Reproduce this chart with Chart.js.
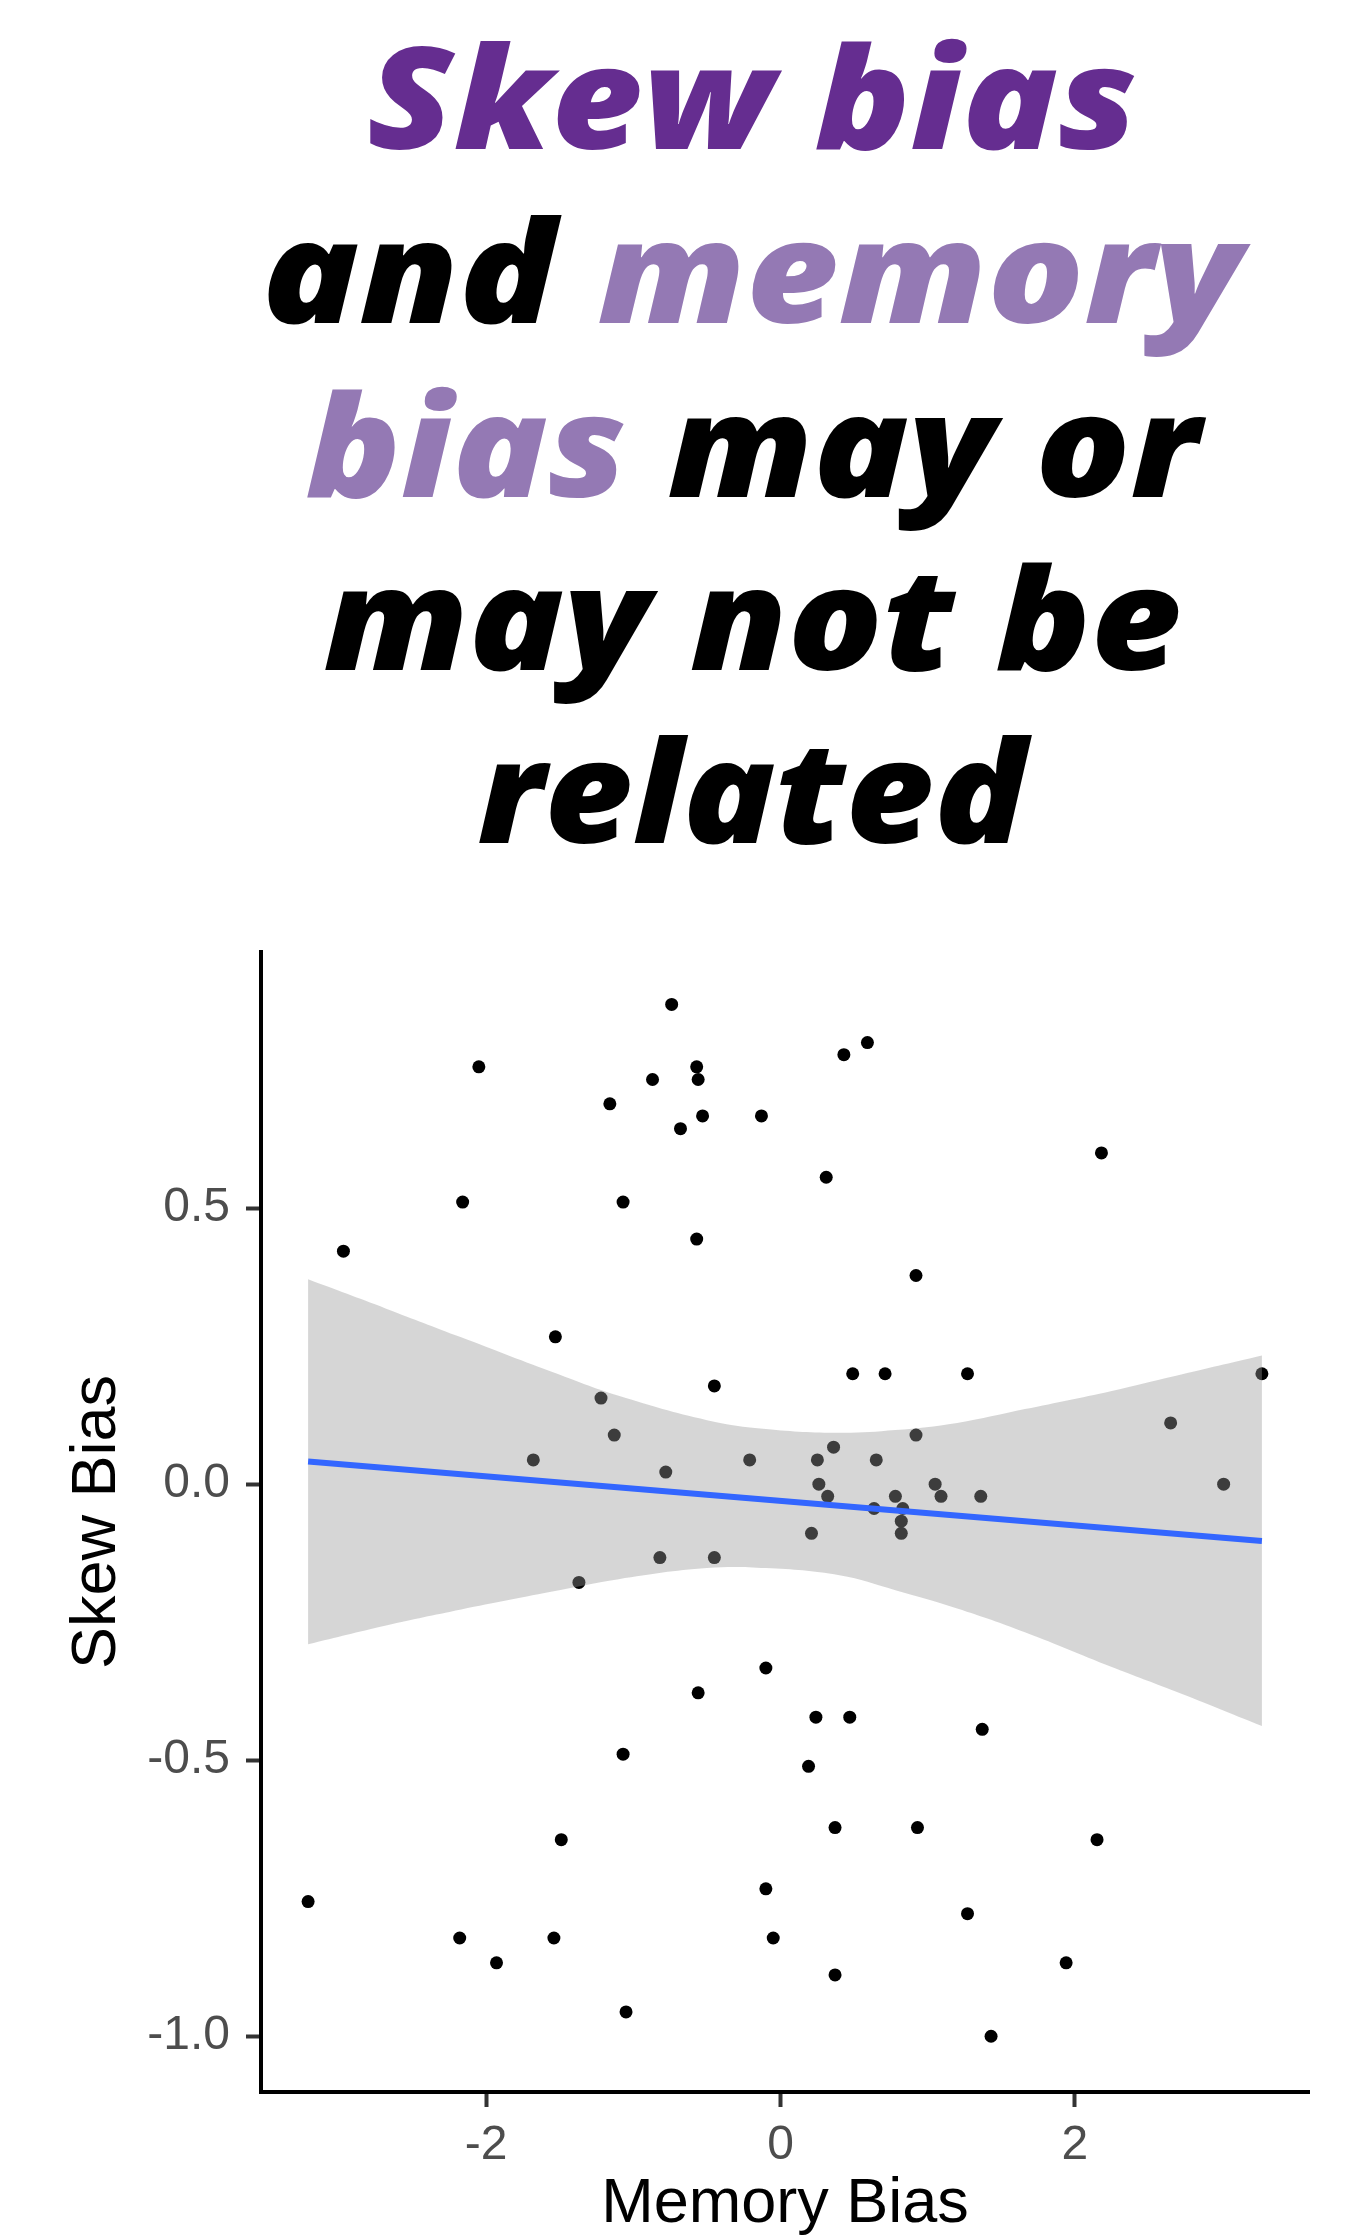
<!DOCTYPE html>
<html>
<head>
<meta charset="utf-8">
<title>Skew bias and memory bias</title>
<script src="https://cdn.jsdelivr.net/npm/chart.js@4.4.1/dist/chart.umd.min.js"></script>
<style>
  html, body { margin: 0; padding: 0; background: #fff; }
  body { position: relative; width: 1356px; height: 2236px; overflow: hidden; }
  .title-line {
    position: absolute;
    white-space: nowrap;
    font-family: 'Open Sans', sans-serif;
    font-style: italic;
    font-weight: 800;
    font-size: 141px;
    line-height: 1.2;
    transform-origin: 50% 50%;
  }
  .base-mark { display: inline-block; width: 0; height: 0; vertical-align: baseline; }
  #chart-wrap { position: absolute; left: 0; top: 900px; width: 1356px; height: 1336px; }
</style>
</head>
<body>
<div id="title"></div>
<div id="chart-wrap"><canvas id="scatter" width="1356" height="1336"></canvas></div>

<script>
// --- data ---
const memoryBias = [
  -0.74, -2.05, 0.59, 0.43, -0.57, -0.87, -0.56, -1.16, -0.53, -0.13,
  -0.68, 2.18, 0.31, -2.16, -1.07, -0.57, -2.97, 0.92, -1.53, 0.49,
  0.71, 1.27, 3.27, -0.45, -1.22, 2.65, -1.13, 0.92, 0.36, -1.68,
  -0.21, 0.25, 0.65, -0.78, 0.26, 1.05, 3.01, 0.32, 0.78, 1.09,
  1.36, 0.635, 0.83, 0.82, 0.21, 0.82, -0.82, -0.45, -1.37, -0.10,
  -0.56, 0.24, 0.47, 1.37, -1.07, 0.19, -1.49, 0.37, 0.93, 2.15,
  -3.21, -0.10, 1.27, -2.18, -1.54, -0.05, -1.93, 0.37, 1.94, -1.05,
  1.43
]
const skewBias = [
  0.869, 0.756, 0.800, 0.778, 0.756, 0.733, 0.733, 0.689, 0.667, 0.667,
  0.644, 0.600, 0.556, 0.511, 0.511, 0.444, 0.422, 0.378, 0.267, 0.200,
  0.200, 0.200, 0.200, 0.178, 0.156, 0.111, 0.089, 0.089, 0.067, 0.044,
  0.044, 0.044, 0.044, 0.022, 0.000, 0.000, 0.000, -0.022, -0.022, -0.022,
  -0.022, -0.044, -0.044, -0.067, -0.089, -0.089, -0.133, -0.133, -0.178, -0.333,
  -0.378, -0.422, -0.422, -0.444, -0.489, -0.511, -0.644, -0.622, -0.622, -0.644,
  -0.756, -0.733, -0.778, -0.822, -0.822, -0.822, -0.867, -0.889, -0.867, -0.956,
  -1.000
]

// linear fit and its confidence band
const fitX = [-3.21, 3.27]
const fitY = [0.041, -0.103]
const bandX = [-3.21, -2.68, -2.17, -1.56, -1.10, -0.50, -0.10, 0.40, 0.78, 1.20, 1.66, 2.25, 2.68, 3.27]
const bandUpper = [0.371, 0.318, 0.266, 0.204, 0.160, 0.116, 0.100, 0.093, 0.098, 0.111, 0.136, 0.169, 0.196, 0.233]
const bandLower = [-0.290, -0.256, -0.227, -0.195, -0.172, -0.152, -0.152, -0.165, -0.192, -0.225, -0.268, -0.331, -0.375, -0.438]

const xTicks = [-2, 0, 2]
const yTicks = [-1, -0.5, 0, 0.5]

// title
const titleLines = [
  [['Skew bias', 'dark']],
  [['and ', 'ink'], ['memory', 'light']],
  [['bias', 'light'], [' may or', 'ink']],
  [['may not be', 'ink']],
  [['related', 'ink']]
]
const titleColors = { dark: '#652D90', light: '#9479B4', ink: '#000000' }
const titleBaselines = [149, 323, 497, 670, 843]
const titleWidths = [770, 980, 894, 858, 549]
const titleCenter = 752

function renderTitle() {
  const box = document.getElementById('title')
  titleLines.forEach((parts, i) => {
    const line = document.createElement('div')
    line.className = 'title-line'
    line.innerHTML =
      parts.map(([t, c]) => `<span style="color:${titleColors[c]}">${t.replace(/ /g, '&nbsp;')}</span>`).join('') +
      '<span class="base-mark"></span>'
    box.appendChild(line)
    const mark = line.querySelector('.base-mark')
    const w = line.offsetWidth
    line.style.left = (titleCenter - w / 2) + 'px'
    line.style.top = (titleBaselines[i] - mark.offsetTop) + 'px'
    line.style.transform = `scaleX(${titleWidths[i] / w})`
  })
}

function renderChart() {
  const axisFont = 'Liberation Sans, Arial, Helvetica, sans-serif'

  new Chart(document.getElementById('scatter'), {
    type: 'scatter',
    data: {
      datasets: [
        {
          type: 'line',
          label: 'fit',
          data: fitX.map((x, i) => ({ x, y: fitY[i] })),
          borderColor: '#3366FF',
          borderWidth: 6,
          pointRadius: 0,
          fill: false,
          order: 0
        },
        {
          type: 'line',
          label: 'ci upper',
          data: bandX.map((x, i) => ({ x, y: bandUpper[i] })),
          borderWidth: 0,
          borderColor: 'rgba(0,0,0,0)',
          backgroundColor: 'rgba(153,153,153,0.4)',
          pointRadius: 0,
          tension: 0.4,
          fill: '+1',
          order: 1
        },
        {
          type: 'line',
          label: 'ci lower',
          data: bandX.map((x, i) => ({ x, y: bandLower[i] })),
          borderWidth: 0,
          borderColor: 'rgba(0,0,0,0)',
          pointRadius: 0,
          tension: 0.4,
          fill: false,
          order: 2
        },
        {
          label: 'subjects',
          data: memoryBias.map((x, i) => ({ x, y: skewBias[i] })),
          backgroundColor: '#000000',
          borderWidth: 0,
          pointRadius: 6.5,
          pointHoverRadius: 6.5,
          order: 3
        }
      ]
    },
    options: {
      responsive: false,
      animation: false,
      devicePixelRatio: 1,
      layout: { padding: { top: 52, right: 47, bottom: 0, left: 0 } },
      plugins: {
        legend: { display: false },
        tooltip: { enabled: false }
      },
      scales: {
        x: {
          type: 'linear',
          position: 'bottom',
          min: -3.53,
          max: 3.59,
          afterBuildTicks: (s) => { s.ticks = xTicks.map((v) => ({ value: v })) },
          afterFit: (s) => { s.height = 144 },
          grid: { drawOnChartArea: false, drawTicks: true, tickLength: 15, tickWidth: 4, tickColor: '#333333' },
          border: { display: true, color: '#000000', width: 4 },
          ticks: {
            color: '#4D4D4D',
            font: { family: axisFont, size: 48 },
            padding: 10,
            maxRotation: 0,
            autoSkip: false,
            callback: (v) => String(v)
          },
          title: {
            display: true,
            text: 'Memory Bias',
            color: '#000000',
            font: { family: axisFont, size: 63, lineHeight: 1.0 },
            padding: { top: 0, bottom: 0 }
          }
        },
        y: {
          type: 'linear',
          min: -1.101,
          max: 0.964,
          afterBuildTicks: (s) => { s.ticks = yTicks.map((v) => ({ value: v })) },
          afterFit: (s) => { s.width = 261 },
          grid: { drawOnChartArea: false, drawTicks: true, tickLength: 15, tickWidth: 4, tickColor: '#333333' },
          border: { display: true, color: '#000000', width: 4 },
          ticks: {
            color: '#4D4D4D',
            font: { family: axisFont, size: 48 },
            padding: 16,
            autoSkip: false,
            callback: (v) => v.toFixed(1)
          },
          title: {
            display: true,
            text: 'Skew Bias',
            color: '#000000',
            font: { family: axisFont, size: 63, lineHeight: 1.2 },
            padding: { top: 60, bottom: 0 }
          }
        }
      }
    }
  })
}

renderTitle()
renderChart()
</script>
</body>
</html>
